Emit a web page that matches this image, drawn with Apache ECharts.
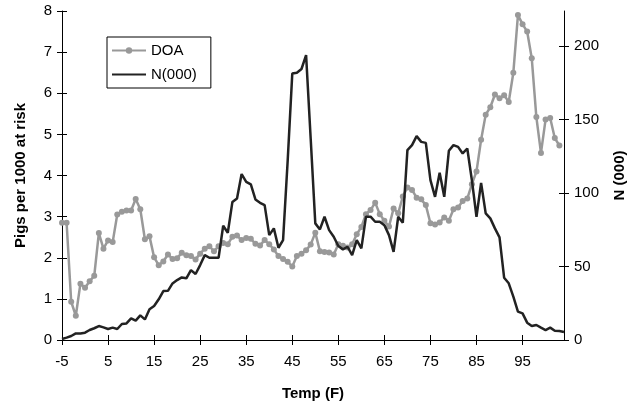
<!DOCTYPE html>
<html>
<head>
<meta charset="utf-8">
<script src="https://cdn.jsdelivr.net/npm/echarts@6/dist/echarts.min.js"></script>
<style>
html,body{margin:0;padding:0;background:#fff;}
#chart{width:635px;height:406px;}
</style>
</head>
<body>
<div id="chart"></div>
<script>
// Temperature categories (F)
const temps = [-5,-4,-3,-2,-1,0,1,2,3,4,5,6,7,8,9,10,11,12,13,14,15,16,17,18,19,20,21,22,23,24,25,26,27,28,29,30,31,32,33,34,35,36,37,38,39,40,41,42,43,44,45,46,47,48,49,50,51,52,53,54,55,56,57,58,59,60,61,62,63,64,65,66,67,68,69,70,71,72,73,74,75,76,77,78,79,80,81,82,83,84,85,86,87,88,89,90,91,92,93,94,95,96,97,98,99,100,101,102,103,104];
// DOA: pigs per 1000 at risk (no value at 104)
const doa = [2.85,2.85,0.93,0.59,1.37,1.27,1.43,1.56,2.6,2.22,
             2.42,2.38,3.05,3.12,3.15,3.15,3.43,3.18,2.45,2.52,
             2.01,1.82,1.91,2.08,1.97,1.99,2.12,2.06,2.04,1.96,
             2.1,2.22,2.28,2.16,2.28,2.36,2.33,2.51,2.54,2.43,
             2.48,2.46,2.34,2.30,2.43,2.33,2.2,2.04,1.97,1.9,
             1.79,2.04,2.1,2.18,2.32,2.61,2.16,2.14,2.13,2.08,
             2.33,2.29,2.25,2.33,2.57,2.75,3.06,3.16,3.34,3.06,
             2.9,2.76,3.2,3.08,3.49,3.71,3.65,3.46,3.42,3.28,
             2.84,2.81,2.86,2.98,2.9,3.18,3.22,3.38,3.44,3.79,
             4.1,4.87,5.48,5.66,5.97,5.88,5.95,5.79,6.5,7.9,
             7.68,7.5,6.85,5.42,4.55,5.36,5.4,4.91,4.73,null];
// N (000)
const nPigs = [0.7,1.6,2.7,4.5,4.5,5,6.8,8,9.5,8.6,
               7.5,8.4,7.5,10.9,11.3,14.7,13.2,16.8,14,20.9,
               23.1,27.7,33.3,33.5,38.5,40.8,42.6,42,47.6,44.9,
               51,57.8,56,56,56,77.8,73,94,96.4,113,
               107.7,106,95.7,93.4,91.8,71.4,76,62.8,68,122,
               181.4,182,184.5,194,137,79.4,75.3,83.9,74.8,70.3,
               64,61.7,63.5,57.8,68,62.4,84,84,80.5,80.5,
               78.2,71.4,60,83.9,79.8,129.3,132.7,138.8,134.9,134.2,
               108.8,97.5,113.8,97.5,128.8,132.7,131.5,127,130.4,108.8,
               83.9,107,86.2,82.8,76,69.9,42.4,38.6,29.5,19.3,
               18.1,11.8,9.5,10.2,8.4,6.8,8.4,6.3,6.1,5.4];
const leftTicks = [0,1,2,3,4,5,6,7,8];
const rightTicks = [0,50,100,150,200];
const xLabelEvery = 10;

const chart = echarts.init(document.getElementById('chart'), null, {renderer:'canvas'});
const FONT = '"Liberation Sans", Arial, sans-serif';
const tickIdx = (i) => i % xLabelEvery === 0;
const lineStyle = {color:'#000', width:1};

const option = {
  animation:false,
  textStyle:{fontFamily:FONT},
  grid:{left:62, right:71, top:11, bottom:66, containLabel:false},
  legend:{
    orient:'vertical', left:107, top:37,
    padding:[6,14,6,4], itemWidth:34, itemHeight:8, itemGap:9,
    borderColor:'#000', borderWidth:1, backgroundColor:'#fff',
    textStyle:{fontFamily:FONT, fontSize:15, color:'#000'},
    data:[
      {name:'DOA'},
      {name:'N(000)', itemStyle:{opacity:0}}
    ]
  },
  xAxis:[
    {type:'category', data:temps, boundaryGap:false, position:'bottom',
     axisLine:{show:true, lineStyle}, axisTick:{show:true, inside:false, length:5, interval:(i)=>tickIdx(i), lineStyle},
     axisLabel:{interval:(i)=>tickIdx(i), fontSize:15, color:'#000', fontFamily:FONT, margin:14},
     splitLine:{show:false},
     name:'Temp (F)', nameLocation:'middle', nameGap:46,
     nameTextStyle:{fontSize:15, fontWeight:'bold', color:'#000', fontFamily:FONT}},
    {type:'category', data:temps, boundaryGap:false, position:'bottom',
     axisLine:{show:false}, axisTick:{show:true, inside:true, length:5, interval:(i)=>tickIdx(i), lineStyle},
     axisLabel:{show:false}, splitLine:{show:false}}
  ],
  yAxis:[
    {type:'value', position:'left', min:0, max:8, interval:1,
     axisLine:{show:true, lineStyle}, axisTick:{show:true, inside:false, length:5, lineStyle},
     axisLabel:{fontSize:15, color:'#000', fontFamily:FONT, margin:10},
     splitLine:{show:false},
     name:'Pigs per 1000 at risk', nameLocation:'middle', nameRotate:90, nameGap:34,
     nameTextStyle:{fontSize:15, fontWeight:'bold', color:'#000', fontFamily:FONT}},
    {type:'value', position:'right', min:0, max:224, interval:50,
     axisLine:{show:true, lineStyle},
     axisTick:{show:true, inside:false, length:5, lineStyle, customValues:rightTicks},
     axisLabel:{fontSize:15, color:'#000', fontFamily:FONT, margin:10, customValues:rightTicks},
     splitLine:{show:false},
     name:'N (000)', nameLocation:'middle', nameRotate:90, nameGap:48,
     nameTextStyle:{fontSize:15, fontWeight:'bold', color:'#000', fontFamily:FONT}},
    {type:'value', position:'left', min:0, max:8, interval:1,
     axisLine:{show:false}, axisTick:{show:true, inside:true, length:5, lineStyle},
     axisLabel:{show:false}, splitLine:{show:false}},
    {type:'value', position:'right', min:0, max:224, interval:50,
     axisLine:{show:false}, axisTick:{show:true, inside:true, length:5, lineStyle, customValues:rightTicks},
     axisLabel:{show:false}, splitLine:{show:false}}
  ],
  series:[
    {name:'DOA', type:'line', xAxisIndex:0, yAxisIndex:0, data:doa,
     symbol:'circle', symbolSize:6, showAllSymbol:true,
     lineStyle:{color:'#999999', width:2.5}, itemStyle:{color:'#999999'}, z:2},
    {name:'N(000)', type:'line', xAxisIndex:0, yAxisIndex:1, data:nPigs,
     symbol:'none', showSymbol:false,
     lineStyle:{color:'#222222', width:2.5}, itemStyle:{color:'#222222'}, z:3}
  ]
};
chart.setOption(option);
</script>
</body>
</html>
